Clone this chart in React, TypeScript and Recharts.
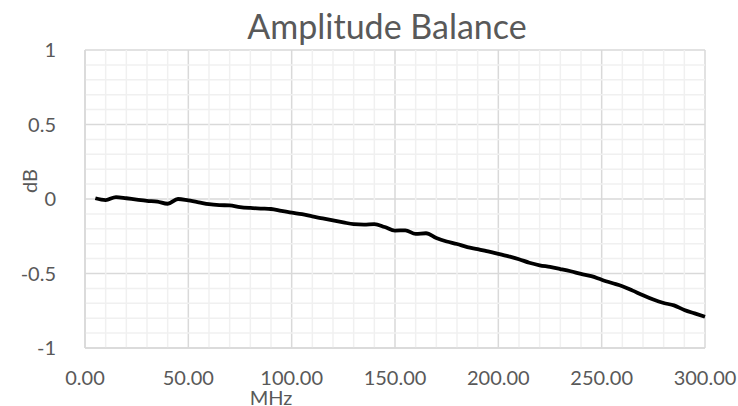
import React from 'react';
import {
  LineChart,
  Line,
  XAxis,
  YAxis,
  CartesianGrid,
  ReferenceLine,
  Label,
} from 'recharts';

// frequency (MHz) and amplitude balance (dB)
const freqs = [
  5, 10, 15, 20, 25, 30, 35, 40, 45, 50, 55, 60, 65, 70, 75, 80, 85, 90, 95, 100,
  105, 110, 115, 120, 125, 130, 135, 140, 145, 150, 155, 160, 165, 170, 175, 180,
  185, 190, 195, 200, 205, 210, 215, 220, 225, 230, 235, 240, 245, 250, 255, 260,
  265, 270, 275, 280, 285, 290, 295, 300,
];
const balance = [
  0.005, -0.007, 0.013, 0.005, -0.004, -0.012, -0.017, -0.032, 0.0, -0.01, -0.022,
  -0.035, -0.041, -0.043, -0.054, -0.06, -0.064, -0.067, -0.08, -0.092, -0.102,
  -0.117, -0.13, -0.144, -0.157, -0.169, -0.172, -0.168, -0.188, -0.212, -0.21,
  -0.234, -0.23, -0.262, -0.285, -0.302, -0.323, -0.336, -0.352, -0.368, -0.385,
  -0.404, -0.428, -0.445, -0.456, -0.47, -0.485, -0.503, -0.518, -0.542, -0.564,
  -0.585, -0.615, -0.646, -0.675, -0.698, -0.714, -0.745, -0.768, -0.79,
];

const xTicks = [0, 50, 100, 150, 200, 250, 300];
const yTicks = [-1, -0.5, 0, 0.5, 1];
const minorX = [10, 20, 30, 40, 60, 70, 80, 90, 110, 120, 130, 140, 160, 170, 180, 190, 210, 220, 230, 240, 260, 270, 280, 290];
const minorY = [-0.9, -0.8, -0.7, -0.6, -0.4, -0.3, -0.2, -0.1, 0.1, 0.2, 0.3, 0.4, 0.6, 0.7, 0.8, 0.9];

const data = freqs.map((f, i) => ({ f, db: balance[i] }));

const FONT = 'Lato, "Open Sans", sans-serif';
const TEXT = '#595959';

export default function App() {
  return (
    <div style={{ position: 'absolute', left: 0, top: 0, width: 738, height: 406, background: '#fff' }}>
      <div
        style={{
          position: 'absolute',
          left: 0,
          width: 774,
          top: 6,
          textAlign: 'center',
          fontFamily: FONT,
          fontSize: 34,
          color: TEXT,
          lineHeight: '40px',
        }}
      >
        Amplitude Balance
      </div>
      <LineChart width={738} height={406} data={data} margin={{ top: 50, right: 33, left: 0, bottom: 0 }}>
        {minorX.map((v) => (
          <ReferenceLine key={`mx${v}`} x={v} stroke="#f0f0f0" strokeWidth={1.5} />
        ))}
        {minorY.map((v) => (
          <ReferenceLine key={`my${v}`} y={v} stroke="#f0f0f0" strokeWidth={1.5} />
        ))}
        <CartesianGrid stroke="#d9d9d9" strokeWidth={1.5} />
        <XAxis
          dataKey="f"
          type="number"
          domain={[0, 300]}
          ticks={xTicks}
          tickFormatter={(v: number) => v.toFixed(2)}
          height={58}
          tickLine={false}
          axisLine={{ stroke: '#d9d9d9', strokeWidth: 1.5 }}
          tickMargin={17}
          tick={{ fill: TEXT, fontSize: 20, fontFamily: FONT }}
        >
          <Label
            content={() => (
              <text x={271} y={405} textAnchor="middle" fill={TEXT} fontSize={20} fontFamily={FONT}>
                MHz
              </text>
            )}
          />
        </XAxis>
        <YAxis
          type="number"
          domain={[-1, 1]}
          ticks={yTicks}
          width={85}
          tickLine={false}
          axisLine={{ stroke: '#d9d9d9', strokeWidth: 1.5 }}
          tickMargin={23}
          tick={{ fill: TEXT, fontSize: 20, fontFamily: FONT }}
        >
          <Label
            content={() => (
              <text
                x={37}
                y={181}
                transform="rotate(-90 37 181)"
                textAnchor="middle"
                fill={TEXT}
                fontSize={20}
                fontFamily={FONT}
              >
                dB
              </text>
            )}
          />
        </YAxis>
        <Line
          type="monotone"
          dataKey="db"
          stroke="#000"
          strokeWidth={3.8}
          dot={false}
          isAnimationActive={false}
        />
      </LineChart>
    </div>
  );
}
